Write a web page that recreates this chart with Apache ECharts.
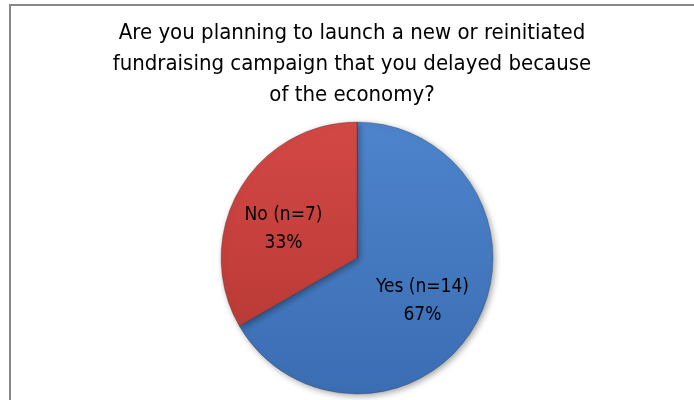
<!DOCTYPE html>
<html>
<head>
<meta charset="utf-8">
<script src="https://cdn.jsdelivr.net/npm/echarts@6/dist/echarts.min.js"></script>
<style>
html,body{margin:0;padding:0;background:#fff;}
#chart{width:694px;height:400px;}
</style>
</head>
<body>
<div id="chart"></div>
<script>
var categories = ['Yes (n=14)', 'No (n=7)'];
var values = [14, 7];
var percentLabels = ['67%', '33%'];
var titleText = 'Are you planning to launch a new or reinitiated\nfundraising campaign that you delayed because\nof the economy?';

var fontFam = '"Liberation Sans Narrow", "DejaVu Sans Condensed", "Open Sans", sans-serif';
var colors = [
  new echarts.graphic.LinearGradient(0, 0, 0, 1, [{offset: 0, color: '#4d84cb'}, {offset: 1, color: '#3b6db3'}]),
  new echarts.graphic.LinearGradient(0, 0, 0, 1, [{offset: 0, color: '#d34845'}, {offset: 1, color: '#bb3b37'}])
];

var chart = echarts.init(document.getElementById('chart'));
chart.setOption({
  animation: false,
  backgroundColor: '#ffffff',
  title: {
    text: titleText,
    left: 347,
    textAlign: 'center',
    top: 13,
    textStyle: {fontFamily: fontFam, fontSize: 22, fontWeight: 'normal', color: '#000', lineHeight: 31}
  },
  graphic: [{
    type: 'rect',
    shape: {x: 10, y: 5, width: 720, height: 420},
    style: {fill: 'none', stroke: '#878787', lineWidth: 2},
    silent: true
  }],
  series: [{
    type: 'pie',
    center: [357, 258],
    radius: [0, 136],
    startAngle: 90,
    clockwise: true,
    data: categories.map(function (c, i) {
      return {name: c, value: values[i], itemStyle: {color: colors[i]}};
    }),
    itemStyle: {borderColor: 'rgba(40,40,40,0.35)', borderWidth: 0.8, shadowBlur: 6, shadowColor: 'rgba(0,0,0,0.35)', shadowOffsetX: 2, shadowOffsetY: 2},
    label: {
      position: 'inside',
      formatter: function (p) { return p.name + '\n' + percentLabels[p.dataIndex]; },
      fontFamily: fontFam,
      fontSize: 19,
      lineHeight: 28,
      color: '#000'
    },
    labelLayout: function (p) {
      return p.dataIndex === 0 ? {dx: 4, dy: 8} : {dx: -12, dy: 7};
    },
    labelLine: {show: false},
    emphasis: {disabled: true}
  }]
});
</script>
</body>
</html>
